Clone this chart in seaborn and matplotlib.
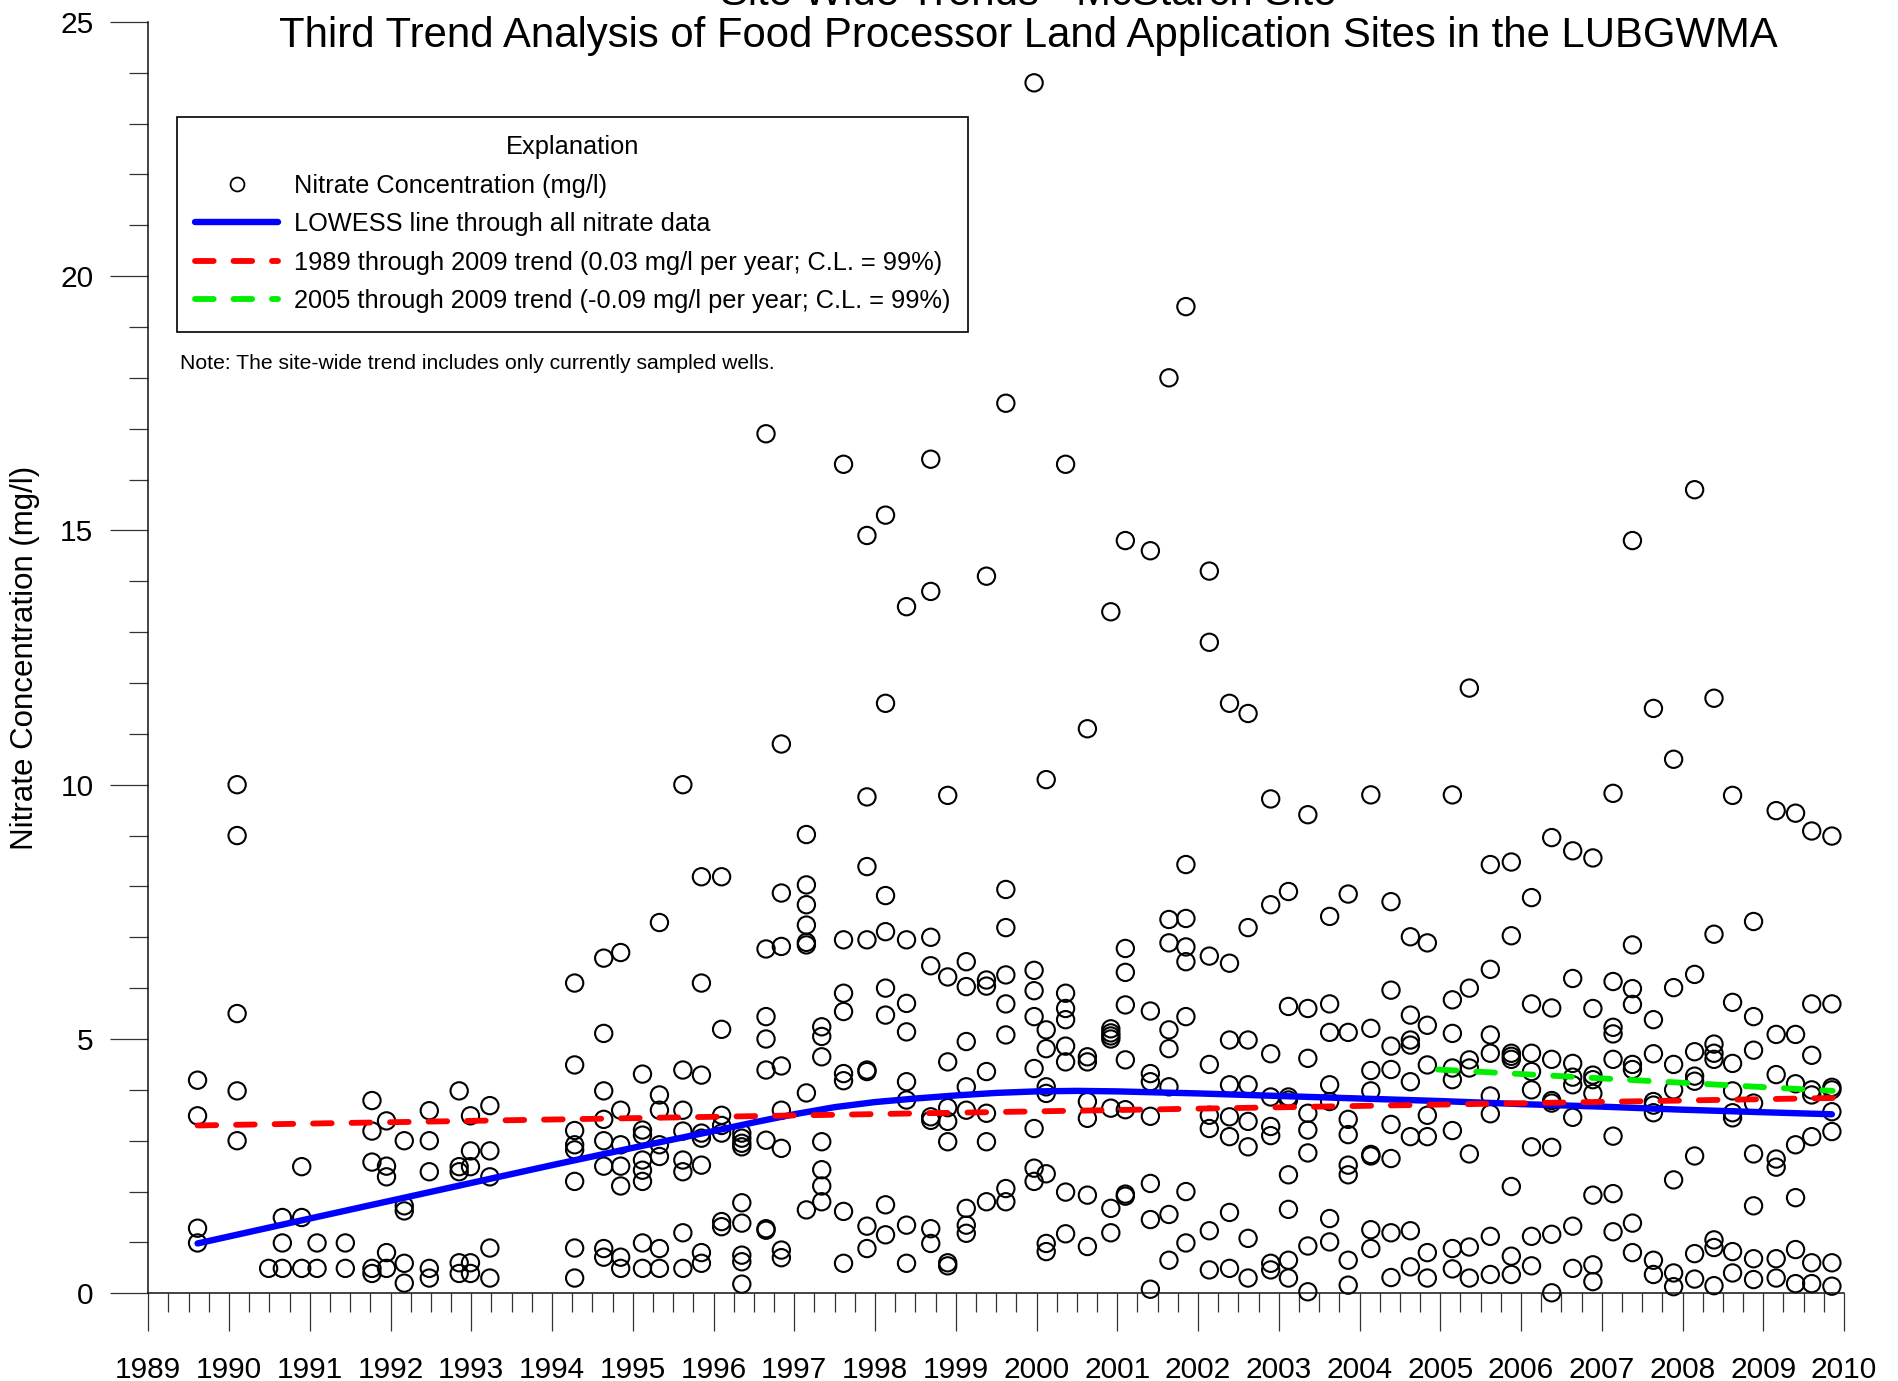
import numpy as np
import pandas as pd
import matplotlib
matplotlib.use("Agg")
import matplotlib.pyplot as plt
from matplotlib.lines import Line2D
from matplotlib.ticker import MultipleLocator
import seaborn as sns

# Sampling events (decimal year) and the nitrate results (mg/l) of each event
sample_years = [
    1989.61, 1990.10, 1990.49, 1990.66, 1990.90, 1991.09, 1991.44, 1991.77,
    1991.95, 1992.17, 1992.48, 1992.85, 1992.99, 1993.23, 1994.28, 1994.64,
    1994.85, 1995.12, 1995.33, 1995.62, 1995.85, 1996.10, 1996.35, 1996.65,
    1996.84, 1997.15, 1997.34, 1997.61, 1997.90, 1998.13, 1998.39, 1998.69,
    1998.90, 1999.13, 1999.38, 1999.62, 1999.97, 2000.12, 2000.36, 2000.63,
    2000.92, 2001.10, 2001.41, 2001.64, 2001.85, 2002.14, 2002.39, 2002.62,
    2002.90, 2003.12, 2003.36, 2003.63, 2003.86, 2004.14, 2004.39, 2004.63,
    2004.84, 2005.15, 2005.36, 2005.62, 2005.88, 2006.13, 2006.38, 2006.64,
    2006.89, 2007.14, 2007.38, 2007.64, 2007.89, 2008.15, 2008.39, 2008.62,
    2008.88, 2009.16, 2009.40, 2009.60, 2009.85,
]
sample_values = [
    [4.19, 3.49, 1.28, 0.99],
    [10.0, 9.0, 5.5, 3.98, 3.0],
    [0.49],
    [1.49, 0.99, 0.49],
    [2.49, 1.49, 0.49],
    [0.99, 0.49],
    [0.99, 0.49],
    [3.79, 3.19, 2.58, 0.49, 0.39],
    [3.39, 2.50, 2.29, 0.80, 0.49],
    [3.00, 1.72, 1.62, 0.59, 0.20],
    [3.59, 3.00, 2.39, 0.49, 0.30],
    [3.98, 2.49, 2.39, 0.60, 0.39],
    [3.49, 2.80, 2.49, 0.60, 0.39],
    [3.69, 2.80, 2.29, 0.89, 0.30],
    [6.10, 4.49, 3.20, 2.92, 2.82, 2.20, 0.89, 0.30],
    [6.59, 5.11, 3.98, 3.42, 3.00, 2.50, 0.88, 0.71],
    [6.70, 3.60, 2.92, 2.50, 2.11, 0.71, 0.49],
    [4.31, 3.21, 3.11, 2.62, 2.42, 2.20, 0.99, 0.49],
    [7.29, 3.90, 3.60, 2.92, 2.69, 0.88, 0.49],
    [10.0, 4.39, 3.60, 3.19, 2.62, 2.39, 1.19, 0.49],
    [8.19, 6.10, 4.29, 3.15, 3.05, 2.52, 0.80, 0.59],
    [8.19, 5.19, 3.50, 3.30, 3.15, 1.41, 1.31],
    [3.15, 3.05, 2.95, 2.88, 1.78, 1.38, 0.75, 0.62, 0.18],
    [16.9, 6.77, 5.44, 5.00, 4.39, 3.01, 1.27, 1.24],
    [10.8, 7.87, 6.82, 4.47, 3.60, 2.85, 0.85, 0.70],
    [9.02, 8.03, 7.64, 7.24, 6.90, 6.85, 3.94, 1.64],
    [5.24, 5.05, 4.65, 2.98, 2.43, 2.11, 1.80],
    [16.3, 6.95, 5.90, 5.54, 4.32, 4.18, 1.61, 0.59],
    [14.9, 9.76, 8.39, 6.95, 4.39, 4.36, 1.32, 0.88],
    [15.3, 11.6, 7.82, 7.11, 6.00, 5.47, 1.74, 1.15],
    [13.5, 6.95, 5.70, 5.14, 4.16, 3.80, 1.34, 0.59],
    [16.4, 13.8, 7.00, 6.44, 3.47, 3.40, 1.27, 0.98],
    [9.79, 6.22, 4.55, 3.65, 3.38, 2.98, 0.60, 0.54],
    [6.52, 6.03, 4.95, 4.06, 3.60, 1.67, 1.34, 1.18],
    [14.1, 6.16, 6.04, 4.36, 3.54, 2.98, 1.80],
    [17.5, 7.94, 7.19, 6.26, 5.69, 5.08, 2.06, 1.80],
    [23.8, 6.35, 5.95, 5.44, 4.42, 3.24, 2.46, 2.20],
    [10.1, 5.18, 4.81, 4.06, 3.93, 2.35, 0.98, 0.82],
    [16.3, 5.90, 5.60, 5.38, 4.86, 4.55, 1.99, 1.17],
    [11.1, 4.65, 4.55, 3.77, 3.44, 1.93, 0.92],
    [13.4, 5.20, 5.12, 5.06, 5.00, 3.64, 1.67, 1.19],
    [14.8, 6.78, 6.31, 5.67, 4.59, 3.61, 1.95, 1.91],
    [14.6, 5.55, 4.32, 4.16, 3.48, 2.16, 1.45, 0.08],
    [18.0, 7.35, 6.89, 5.18, 4.81, 4.06, 1.55, 0.65],
    [19.4, 8.43, 7.37, 6.81, 6.52, 5.44, 2.00, 0.99],
    [14.2, 12.8, 6.63, 4.50, 3.50, 3.24, 1.23, 0.46],
    [11.6, 6.49, 4.98, 4.10, 3.47, 3.08, 1.59, 0.49],
    [11.4, 7.19, 4.98, 4.10, 3.38, 2.88, 1.08, 0.30],
    [9.72, 7.64, 4.71, 3.86, 3.28, 3.10, 0.59, 0.46],
    [7.90, 5.64, 3.86, 3.80, 2.33, 1.65, 0.65, 0.30],
    [9.41, 5.60, 4.62, 3.54, 3.21, 2.76, 0.93, 0.03],
    [7.41, 5.69, 5.13, 4.10, 3.77, 1.47, 1.01],
    [7.85, 5.13, 3.42, 3.12, 2.52, 2.33, 0.65, 0.16],
    [9.80, 5.21, 4.38, 3.98, 2.73, 2.70, 1.25, 0.88],
    [7.70, 5.96, 4.86, 4.40, 3.32, 2.65, 1.19, 0.31],
    [7.01, 5.47, 4.98, 4.88, 4.16, 3.08, 1.23, 0.52],
    [6.89, 5.27, 4.49, 3.50, 3.08, 0.80, 0.30],
    [9.80, 5.77, 5.11, 4.43, 4.20, 3.20, 0.88, 0.48],
    [11.9, 6.00, 4.59, 4.43, 2.74, 0.91, 0.30],
    [8.43, 6.37, 5.08, 4.72, 3.88, 3.53, 1.12, 0.37],
    [8.48, 7.03, 4.72, 4.66, 4.60, 2.10, 0.73, 0.37],
    [7.78, 5.69, 4.72, 4.36, 4.00, 2.88, 1.12, 0.54],
    [8.96, 5.61, 4.60, 3.79, 3.74, 2.87, 1.16, 0.01],
    [8.70, 6.19, 4.52, 4.25, 4.10, 3.46, 1.32, 0.49],
    [8.56, 5.60, 4.29, 4.20, 3.93, 1.93, 0.56, 0.23],
    [9.83, 6.13, 5.23, 5.10, 4.60, 3.09, 1.96, 1.21],
    [14.8, 6.85, 5.99, 5.68, 4.50, 4.40, 1.38, 0.80],
    [11.5, 5.38, 4.71, 3.77, 3.70, 3.55, 0.65, 0.37],
    [10.5, 6.01, 4.50, 4.00, 2.23, 0.40, 0.13],
    [15.8, 6.27, 4.75, 4.27, 4.17, 2.70, 0.78, 0.28],
    [11.7, 7.06, 4.90, 4.72, 4.60, 1.05, 0.90, 0.15],
    [9.79, 5.72, 4.52, 3.98, 3.55, 3.45, 0.82, 0.40],
    [7.31, 5.44, 4.78, 3.74, 2.74, 1.72, 0.68, 0.27],
    [9.49, 5.09, 4.30, 2.64, 2.48, 0.68, 0.30],
    [9.44, 5.09, 4.12, 2.92, 1.88, 0.86, 0.19],
    [9.09, 5.69, 4.68, 4.00, 3.90, 3.08, 0.60, 0.19],
    [8.99, 5.69, 4.05, 4.00, 3.57, 3.18, 0.60, 0.14],
]

# LOWESS curve through all nitrate data
lowess_years = [1989.61, 1991.0, 1992.0, 1993.0, 1994.0, 1995.0, 1996.0, 1996.5,
                1997.0, 1997.5, 1998.0, 1998.5, 1999.0, 1999.5, 2000.0, 2000.5,
                2001.0, 2001.5, 2002.0, 2003.0, 2004.0, 2005.0, 2006.0, 2007.0,
                2008.0, 2009.0, 2009.85]
lowess_values = [0.98, 1.47, 1.82, 2.17, 2.52, 2.86, 3.19, 3.36,
                 3.52, 3.66, 3.76, 3.83, 3.89, 3.94, 3.97, 3.98,
                 3.97, 3.95, 3.93, 3.88, 3.83, 3.78, 3.72, 3.67,
                 3.61, 3.56, 3.52]

# Trend lines (end points)
trend_all_years = [1989.61, 2009.86]
trend_all_values = [3.30, 3.84]
trend_recent_years = [2004.97, 2009.86]
trend_recent_values = [4.40, 3.98]

legend_labels = [
    "Nitrate Concentration (mg/l)",
    "LOWESS line through all nitrate data",
    "1989 through 2009 trend (0.03 mg/l per year; C.L. = 99%)",
    "2005 through 2009 trend (-0.09 mg/l per year; C.L. = 99%)",
]

sns.set_style("white")
plt.rcParams["font.family"] = ["Liberation Sans", "DejaVu Sans"]
plt.rcParams["text.color"] = "black"
plt.rcParams["axes.labelcolor"] = "black"
plt.rcParams["xtick.color"] = "black"
plt.rcParams["ytick.color"] = "black"

W, H = 1898, 1381
fig = plt.figure(figsize=(W / 100, H / 100), dpi=100)
ax_l, ax_r, ax_b, ax_t = 148.3, 1844.0, 1293.3, 21.8
ax = fig.add_axes([ax_l / W, 1 - ax_b / H, (ax_r - ax_l) / W, (ax_b - ax_t) / H])

counts = [len(v) for v in sample_values]
df = pd.DataFrame({
    "year": np.repeat(sample_years, counts),
    "nitrate": np.concatenate(sample_values),
})

sns.scatterplot(data=df, x="year", y="nitrate", ax=ax, marker="o", s=155,
                facecolors="none", edgecolor="black", linewidth=1.5,
                clip_on=False, zorder=2, legend=False)

lw_blue = 4.6
lw_trend = 4.2
trend_dash = (3.2, 3.4)
sns.lineplot(x=lowess_years, y=lowess_values, ax=ax, color="#0000ff",
             linewidth=lw_blue, sort=False, estimator=None,
             solid_capstyle="round", zorder=3)
ax.plot(trend_all_years, trend_all_values, color="#ff0000", linewidth=lw_trend,
        dashes=trend_dash, dash_capstyle="round", zorder=4)
ax.plot(trend_recent_years, trend_recent_values, color="#00ee00", linewidth=lw_trend,
        dashes=trend_dash, dash_capstyle="round", zorder=4)

ax.set_xlim(1989, 2010)
ax.set_ylim(0, 25)
ax.xaxis.set_minor_locator(MultipleLocator(0.25))
ax.yaxis.set_major_locator(MultipleLocator(5))
ax.yaxis.set_minor_locator(MultipleLocator(1))
ax.set_xticks(range(1989, 2011))
ax.set_xticklabels([str(y) for y in range(1989, 2011)])

for side in ("top", "right"):
    ax.spines[side].set_visible(False)
for side in ("left", "bottom"):
    ax.spines[side].set_color("#111111")
    ax.spines[side].set_linewidth(1.1)

ax.tick_params(which="major", direction="out", length=27.5, width=0.9,
               color="#333333", labelsize=21.5, labelcolor="black")
ax.tick_params(which="minor", direction="out", length=13.7, width=0.9,
               color="#333333")
ax.tick_params(axis="x", which="major", pad=18, bottom=True)
ax.tick_params(axis="x", which="minor", bottom=True)
ax.tick_params(axis="y", which="major", pad=12, left=True)
ax.tick_params(axis="y", which="minor", left=True)

ax.set_xlabel("")
ax.set_ylabel("Nitrate Concentration (mg/l)", fontsize=22.5, color="black")
ax.yaxis.set_label_coords((25 - ax_l) / (ax_r - ax_l), 0.5)
ax.yaxis.label.set_verticalalignment("center")

# Explanation box
handles = [
    Line2D([], [], ls="none", marker="o", ms=10, mfc="none", mec="black", mew=1.3),
    Line2D([], [], color="#0000ff", lw=lw_blue, solid_capstyle="round"),
    Line2D([], [], color="#ff0000", lw=lw_trend, dashes=trend_dash, dash_capstyle="round"),
    Line2D([], [], color="#00ee00", lw=lw_trend, dashes=trend_dash, dash_capstyle="round"),
]
leg = ax.legend(handles, legend_labels, title="Explanation", loc="upper left",
                bbox_to_anchor=(177 / W, 1 - 117 / H), bbox_transform=fig.transFigure,
                frameon=True, fancybox=False, edgecolor="black", framealpha=1,
                fontsize=18.3, title_fontsize=18.3, handlelength=3.25,
                handletextpad=0.62, labelspacing=0.57, borderpad=0.72,
                borderaxespad=0)
leg.get_frame().set_linewidth(1.2)
leg.get_title().set_color("black")
for t in leg.get_texts():
    t.set_color("black")

fig.text(180 / W, 1 - 363.5 / H, "Note: The site-wide trend includes only currently sampled wells.",
         fontsize=15.2, ha="left", va="center", color="black")

fig.text(1028 / W, 1 - 5 / H, "Site Wide Trends - McStarch Site",
         fontsize=30.2, ha="center", va="baseline", color="black")
fig.text(1028 / W, 1 - 47 / H,
         "Third Trend Analysis of Food Processor Land Application Sites in the LUBGWMA",
         fontsize=30.2, ha="center", va="baseline", color="black")

fig.savefig("out.png", dpi=100, facecolor="white")
